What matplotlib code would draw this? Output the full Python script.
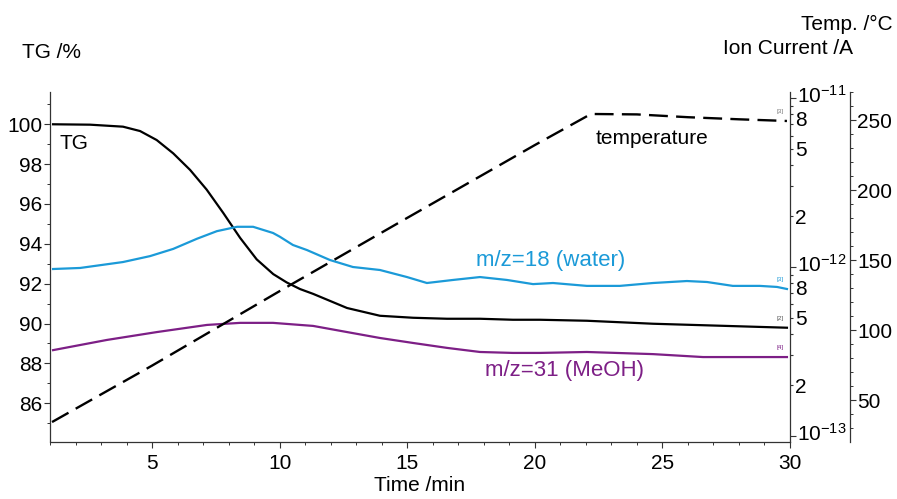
import numpy as np
import matplotlib
matplotlib.use("Agg")
import matplotlib.pyplot as plt
import matplotlib.transforms as mtransforms
from matplotlib.ticker import MultipleLocator, FixedLocator, FuncFormatter

plt.rcParams['font.family'] = ['Liberation Sans', 'DejaVu Sans']
plt.rcParams['mathtext.fontset'] = 'custom'
plt.rcParams['mathtext.rm'] = 'Liberation Sans'
plt.rcParams['mathtext.default'] = 'regular'

# ---------------- data ----------------
tg_time = [1.12, 2.57, 3.86, 4.53, 5.18, 5.83, 6.49, 7.14, 7.79, 8.45, 9.10, 9.75,
           10.28, 10.80, 11.31, 12.64, 13.93, 15.23, 16.56, 17.85, 19.14, 20.20,
           22.04, 24.63, 27.26, 29.88]
tg_value = [100.0, 99.98, 99.88, 99.66, 99.21, 98.54, 97.71, 96.72, 95.55, 94.30,
            93.22, 92.48, 92.06, 91.73, 91.49, 90.78, 90.39, 90.29, 90.24, 90.24,
            90.19, 90.19, 90.14, 89.99, 89.89, 89.79]

temp_time = [1.08, 5.0, 10.0, 15.0, 20.0, 22.2, 24.0, 26.0, 28.0, 29.88]
temp_value = [34.3, 74.6, 127.8, 180.1, 232.1, 254.3, 254.0, 252.0, 250.5, 249.3]

w18_time = [1.12, 2.18, 3.86, 4.92, 5.83, 6.76, 7.54, 8.33, 8.96, 9.74, 10.01, 10.52,
            11.07, 11.97, 12.87, 13.93, 14.99, 15.77, 16.79, 17.85, 18.91, 19.93,
            20.71, 22.04, 23.33, 24.63, 25.96, 26.75, 27.76, 28.82, 29.49, 29.88]
w18_value = [9.73e-13, 9.87e-13, 1.07e-12, 1.16e-12, 1.28e-12, 1.47e-12, 1.63e-12,
             1.73e-12, 1.73e-12, 1.59e-12, 1.51e-12, 1.35e-12, 1.26e-12, 1.10e-12,
             1.00e-12, 9.60e-13, 8.72e-13, 8.04e-13, 8.38e-13, 8.72e-13, 8.38e-13,
             7.92e-13, 8.04e-13, 7.73e-13, 7.73e-13, 8.04e-13, 8.26e-13, 8.15e-13,
             7.73e-13, 7.73e-13, 7.62e-13, 7.41e-13]

m31_time = [1.12, 3.23, 5.19, 7.15, 8.45, 9.74, 10.80, 11.31, 12.64, 13.93, 15.23,
            16.56, 17.85, 19.14, 20.20, 22.04, 24.63, 26.59, 27.92, 29.88]
m31_value = [3.22e-13, 3.70e-13, 4.12e-13, 4.54e-13, 4.67e-13, 4.67e-13, 4.54e-13,
             4.48e-13, 4.12e-13, 3.80e-13, 3.55e-13, 3.32e-13, 3.14e-13, 3.10e-13,
             3.10e-13, 3.14e-13, 3.05e-13, 2.93e-13, 2.93e-13, 2.93e-13]

x_ticks = [5, 10, 15, 20, 25, 30]
tg_ticks = [86, 88, 90, 92, 94, 96, 98, 100]
temp_ticks = [50, 100, 150, 200, 250]

# ---------------- figure ----------------
W, H = 897, 499
fig = plt.figure(figsize=(W / 100, H / 100), dpi=100)
L, R, T, B = 50, 790, 92, 441.5
ax = fig.add_axes([L / W, 1 - B / H, (R - L) / W, (B - T) / H])

BLUE = '#1b9ad8'
PURPLE = '#7d1f86'
FS = 15
SPC = '#333333'

ax.plot(tg_time, tg_value, color='black', lw=1.6, zorder=3)
ax.set_xlim(1, 30)
ax.set_ylim(84.08, 101.62)
ax.set_xticks(x_ticks)
ax.xaxis.set_minor_locator(MultipleLocator(1))
ax.set_yticks(tg_ticks)
ax.yaxis.set_minor_locator(MultipleLocator(1))
ax.spines['top'].set_visible(False)
ax.spines['right'].set_visible(False)
for s in ('left', 'bottom'):
    ax.spines[s].set_linewidth(0.9)
    ax.spines[s].set_color(SPC)
ax.tick_params(axis='both', which='major', labelsize=FS, length=4, width=0.8, color=SPC)
ax.tick_params(axis='both', which='minor', length=2.5, width=0.7, color=SPC)
ax.tick_params(axis='x', which='major', pad=5)
ax.tick_params(axis='y', which='major', pad=1.5)
ax.set_xlabel('Time /min', fontsize=FS, labelpad=2)

# ion current axis (log)
ax_ion = ax.twinx()
ax_ion.set_yscale('log')
ax_ion.plot(w18_time, w18_value, color=BLUE, lw=1.6)
ax_ion.plot(m31_time, m31_value, color=PURPLE, lw=1.6)
ax_ion.set_ylim(10 ** -13.033, 10 ** -10.964)
ax_ion.yaxis.set_major_locator(FixedLocator([1e-13, 1e-12, 1e-11]))
minor_mant = [m for e in (-13, -12) for m in range(2, 10)]
minor_vals = [m * 10.0 ** e for e in (-13, -12) for m in range(2, 10)]
ax_ion.yaxis.set_minor_locator(FixedLocator(minor_vals))


def major_fmt(v, pos):
    e = int(round(np.log10(v)))
    return r'$10^{%d}$' % e


def minor_fmt(v, pos):
    e = np.floor(np.log10(v) + 1e-9)
    m = int(round(v / 10 ** e))
    return str(m) if m in (2, 5, 8) else ''


ax_ion.yaxis.set_major_formatter(FuncFormatter(major_fmt))
ax_ion.yaxis.set_minor_formatter(FuncFormatter(minor_fmt))
ax_ion.tick_params(axis='y', which='both', labelsize=FS, pad=1, width=0.8, color=SPC)
ax_ion.tick_params(axis='y', which='major', length=4)
ax_ion.tick_params(axis='y', which='minor', length=2.5)
for s in ('top', 'left', 'bottom'):
    ax_ion.spines[s].set_visible(False)
ax_ion.spines['right'].set_linewidth(0.9)
ax_ion.spines['right'].set_color(SPC)

# nudge the decade labels up and the "8" labels down a little so they do not collide
up = mtransforms.ScaledTranslation(0, 3 / 72, fig.dpi_scale_trans)
down = mtransforms.ScaledTranslation(0, -3 / 72, fig.dpi_scale_trans)
for tk in ax_ion.yaxis.get_major_ticks():
    tk.label2.set_transform(tk.label2.get_transform() + up)
for tk, m in zip(ax_ion.yaxis.get_minor_ticks(), minor_mant):
    if m == 8:
        tk.label2.set_transform(tk.label2.get_transform() + down)

# temperature axis
ax_t = ax.twinx()
ax_t.spines['right'].set_position(('axes', (850 - R) / (R - L) + 1))
ax_t.plot(temp_time, temp_value, color='black', lw=1.7, dashes=(8, 3.5))
ax_t.set_ylim(20.4, 270.0)
ax_t.set_yticks(temp_ticks)
ax_t.yaxis.set_minor_locator(MultipleLocator(10))
ax_t.tick_params(axis='y', which='major', labelsize=FS, length=4, pad=1, width=0.8, color=SPC)
ax_t.tick_params(axis='y', which='minor', length=2.5, width=0.7, color=SPC)
for s in ('top', 'left', 'bottom'):
    ax_t.spines[s].set_visible(False)
ax_t.spines['right'].set_linewidth(0.9)
ax_t.spines['right'].set_color(SPC)

# annotations
ax.text(1.39, 99.03, 'TG', fontsize=15, ha='left', va='center', color='black')
ax.text(24.6, 99.29, 'temperature', fontsize=15, ha='center', va='center', color='black')
ax.text(20.63, 93.14, 'm/z=18 (water)', fontsize=16, ha='center', va='center', color=BLUE)
ax.text(21.18, 87.65, 'm/z=31 (MeOH)', fontsize=16, ha='center', va='center', color=PURPLE)

# small curve tags near the right ends
tag_kw = dict(fontsize=4.5, ha='center', va='bottom')
ax_t.annotate('[3]', xy=(temp_time[-1], temp_value[-1]), xytext=(-5, 5),
              textcoords='offset points', color='#777777', **tag_kw)
ax_ion.annotate('[3]', xy=(w18_time[-1], w18_value[-1]), xytext=(-5, 5),
                textcoords='offset points', color=BLUE, **tag_kw)
ax.annotate('[2]', xy=(tg_time[-1], tg_value[-1]), xytext=(-5, 5),
            textcoords='offset points', color='#555555', **tag_kw)
ax_ion.annotate('[4]', xy=(m31_time[-1], m31_value[-1]), xytext=(-5, 5),
                textcoords='offset points', color=PURPLE, **tag_kw)

# axis titles
fig.text(22 / W, 1 - 52 / H, 'TG /%', fontsize=FS, ha='left', va='center')
fig.text(893 / W, 1 - 24 / H, 'Temp. /°C', fontsize=FS, ha='right', va='center')
fig.text(853 / W, 1 - 48 / H, 'Ion Current /A', fontsize=FS, ha='right', va='center')

fig.savefig('out.png', dpi=100, facecolor='white')
